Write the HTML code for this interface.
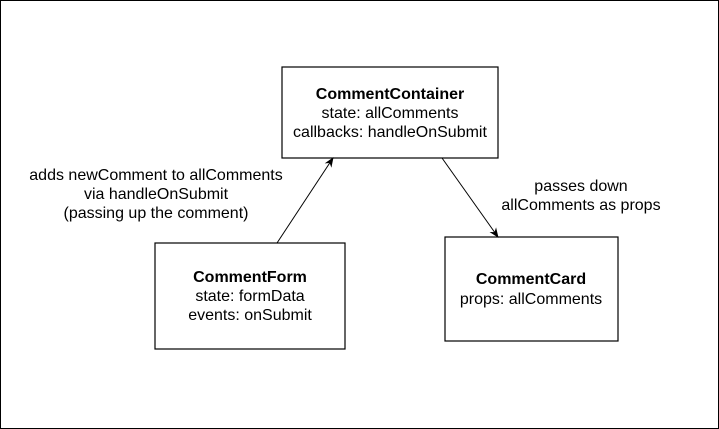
<!DOCTYPE html>
<html><head><meta charset="utf-8"><style>
html,body{margin:0;padding:0;background:#fff;}
svg{display:block;}
text{font-family:"Liberation Sans",Arial,sans-serif;font-size:16px;fill:#000;}
.b{font-weight:bold;}
</style></head><body>
<svg width="719" height="429" viewBox="0 0 719 429" xmlns="http://www.w3.org/2000/svg">
<defs>
<marker id="ar" viewBox="0 0 10 10" refX="9" refY="5" markerWidth="10" markerHeight="10" markerUnits="userSpaceOnUse" orient="auto">
<path d="M0,1 L10,5 L0,9 L3,5 Z" fill="#000"/>
</marker>
</defs>
<rect x="0.5" y="0.5" width="718" height="428" fill="#fff" stroke="#000" stroke-width="1"/>
<rect x="282" y="67" width="216" height="91" fill="#fff" stroke="#000" stroke-width="1.2"/>
<rect x="155" y="243" width="190" height="106" fill="#fff" stroke="#000" stroke-width="1.2"/>
<rect x="445" y="237" width="173" height="104" fill="#fff" stroke="#000" stroke-width="1.2"/>
<line x1="277" y1="243" x2="333" y2="158" stroke="#000" stroke-width="1" marker-end="url(#ar)"/>
<line x1="442" y1="158" x2="498" y2="237" stroke="#000" stroke-width="1" marker-end="url(#ar)"/>
<g text-anchor="middle">
<text x="390" y="99" class="b">CommentContainer</text>
<text x="390" y="118">state: allComments</text>
<text x="390" y="137">callbacks: handleOnSubmit</text>
<text x="250" y="282" class="b">CommentForm</text>
<text x="250" y="301">state: formData</text>
<text x="250" y="320">events: onSubmit</text>
<text x="531" y="284" class="b">CommentCard</text>
<text x="531" y="304">props: allComments</text>
<text x="156" y="180">adds newComment to allComments</text>
<text x="156" y="199">via handleOnSubmit</text>
<text x="156" y="218">(passing up the comment)</text>
<text x="581" y="191">passes down</text>
<text x="581" y="210">allComments as props</text>
</g>
</svg>
</body></html>
